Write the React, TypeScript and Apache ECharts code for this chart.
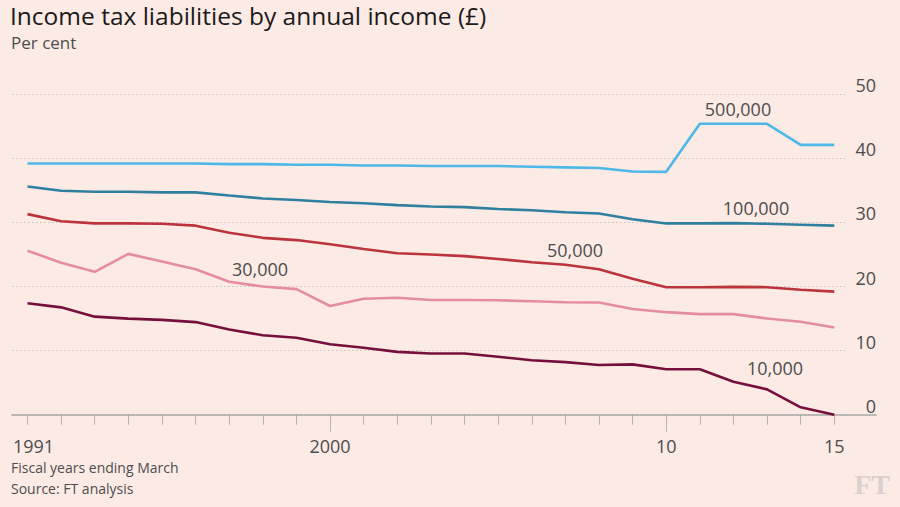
import React, { useEffect, useRef } from "react";
import * as echarts from "echarts";

// fiscal years ending March
const years = [
  "1991", "1992", "1993", "1994", "1995", "1996", "1997", "1998", "1999", "2000",
  "2001", "2002", "2003", "2004", "2005", "2006", "2007", "2008", "2009", "2010",
  "2011", "2012", "2013", "2014", "2015",
];

// income tax liability as per cent of annual income
const inc500k = [
  39.2, 39.2, 39.2, 39.2, 39.2, 39.2, 39.1, 39.1, 39.0, 39.0,
  38.9, 38.9, 38.8, 38.8, 38.8, 38.7, 38.6, 38.5, 37.95, 37.9,
  45.4, 45.4, 45.4, 42.1, 42.1,
];
const inc100k = [
  35.6, 34.95, 34.8, 34.8, 34.7, 34.7, 34.2, 33.75, 33.5, 33.2,
  33.0, 32.7, 32.5, 32.4, 32.1, 31.9, 31.6, 31.4, 30.5, 29.85,
  29.85, 29.9, 29.8, 29.65, 29.5,
];
const inc50k = [
  31.3, 30.2, 29.85, 29.85, 29.8, 29.5, 28.4, 27.6, 27.25, 26.6,
  25.85, 25.2, 25.0, 24.75, 24.3, 23.8, 23.4, 22.7, 21.2, 19.9,
  19.9, 19.95, 19.9, 19.5, 19.2,
];
const inc30k = [
  25.6, 23.7, 22.3, 25.1, 23.9, 22.7, 20.75, 20.0, 19.6, 16.96,
  18.1, 18.25, 17.9, 17.9, 17.85, 17.7, 17.55, 17.5, 16.5, 16.0,
  15.7, 15.7, 15.0, 14.5, 13.6,
];
const inc10k = [
  17.4, 16.75, 15.3, 15.0, 14.8, 14.45, 13.3, 12.4, 12.0, 11.0,
  10.45, 9.8, 9.55, 9.55, 9.05, 8.5, 8.2, 7.75, 7.85, 7.1,
  7.1, 5.15, 3.95, 1.15, 0,
];

const seriesNames = ["500,000", "100,000", "50,000", "30,000", "10,000"];
const seriesColors = ["#4db8e8", "#2f7fa0", "#bb333b", "#e48d9f", "#75103d"];
const xLabels: Record<string, string> = { "1991": "1991", "2000": "2000", "2010": "10", "2015": "15" };

const FONT = "'Open Sans', sans-serif";
const INK = "#4d4d4d";

const App: React.FC = () => {
  const chartRef = useRef<HTMLDivElement>(null);

  useEffect(() => {
    document.body.style.margin = "0";
    const chart = echarts.init(chartRef.current!, null, { renderer: "svg" });

    const plotTop = 94.3;
    const plotHeight = 320.4;

    chart.setOption({
      animation: false,
      backgroundColor: "#fceae5",
      textStyle: { fontFamily: FONT },
      grid: [
        // lines
        { left: 27.5, width: 806.8, top: plotTop, height: plotHeight },
        // dotted gridlines + value labels
        { left: 12, width: 833, top: plotTop, height: plotHeight },
        // baseline
        { left: 12, width: 864, top: plotTop, height: plotHeight },
      ],
      xAxis: [
        {
          gridIndex: 0,
          type: "category",
          data: years,
          boundaryGap: false,
          position: "bottom",
          axisLine: { show: false },
          axisTick: { show: true, interval: 0, length: 10, lineStyle: { color: "#b8b3ae", width: 1 } },
          axisLabel: {
            interval: 0,
            margin: 22,
            fontSize: 18,
            color: INK,
            fontFamily: FONT,
            formatter: (v: string) => (v === "1991" ? "{first|1991}" : xLabels[v] || ""),
            rich: { first: { padding: [0, 0, 0, 12], fontSize: 18, color: INK, fontFamily: FONT } },
          },
        },
        {
          gridIndex: 1,
          type: "value",
          min: 0,
          max: 1,
          show: false,
        },
        {
          gridIndex: 2,
          type: "value",
          min: 0,
          max: 1,
          position: "bottom",
          z: 1,
          axisLine: { show: true, lineStyle: { color: "#a6a8a2", width: 1.5 } },
          axisTick: { show: false },
          axisLabel: { show: false },
          splitLine: { show: false },
        },
        {
          // longer ticks at the labelled decade marks
          gridIndex: 0,
          type: "category",
          data: years,
          boundaryGap: false,
          position: "bottom",
          axisLine: { show: false },
          axisTick: {
            show: true,
            interval: (i: number) => i === 9 || i === 19,
            length: 17,
            lineStyle: { color: "#b8b3ae", width: 1 },
          },
          axisLabel: { show: false },
        },
      ],
      yAxis: [
        { gridIndex: 0, type: "value", min: 0, max: 50, show: false },
        {
          gridIndex: 1,
          type: "value",
          min: 0,
          max: 50,
          interval: 10,
          position: "right",
          z: 0,
          axisLine: { show: false },
          axisTick: { show: false },
          axisLabel: {
            margin: 31,
            align: "right",
            verticalAlign: "bottom",
            fontSize: 18,
            color: INK,
            fontFamily: FONT,
          },
          splitLine: { show: true, lineStyle: { color: "#c9c1bd", type: [1.5, 2.5], width: 1 } },
        },
        { gridIndex: 2, type: "value", min: 0, max: 50, show: false },
      ],
      series: [inc500k, inc100k, inc50k, inc30k, inc10k].map((d, i) => ({
        name: seriesNames[i],
        type: "line",
        xAxisIndex: 0,
        yAxisIndex: 0,
        data: d,
        symbol: "none",
        z: 3,
        lineStyle: { color: seriesColors[i], width: 2.6 },
      })),
      graphic: [
        {
          type: "text",
          left: 10,
          top: 3,
          style: { text: "Income tax liabilities by annual income (£)", font: `24.5px ${FONT}`, fill: "#1a1a1a" },
        },
        {
          type: "text",
          left: 11,
          top: 34,
          style: { text: "Per cent", font: `17px ${FONT}`, fill: INK },
        },
        {
          type: "text",
          left: 11,
          top: 460,
          style: { text: "Fiscal years ending March", font: `14px ${FONT}`, fill: INK },
        },
        {
          type: "text",
          left: 11,
          top: 481,
          style: { text: "Source: FT analysis", font: `14px ${FONT}`, fill: INK },
        },
        {
          type: "text",
          right: 10,
          top: 470,
          style: { text: "FT", font: `bold 28px 'Liberation Serif', serif`, fill: "#dbd0cc" },
        },
        ...[
          [738, 109],
          [756, 208],
          [575, 250],
          [260, 269],
          [775, 368],
        ].map(([x, y], i) => ({
          type: "text",
          x,
          y,
          style: {
            text: seriesNames[i],
            font: `18px ${FONT}`,
            fill: INK,
            align: "center",
            verticalAlign: "middle",
          },
        })),
      ],
    });

    return () => {
      chart.dispose();
    };
  }, []);

  return <div ref={chartRef} style={{ width: 900, height: 507 }} />;
};

export default App;
